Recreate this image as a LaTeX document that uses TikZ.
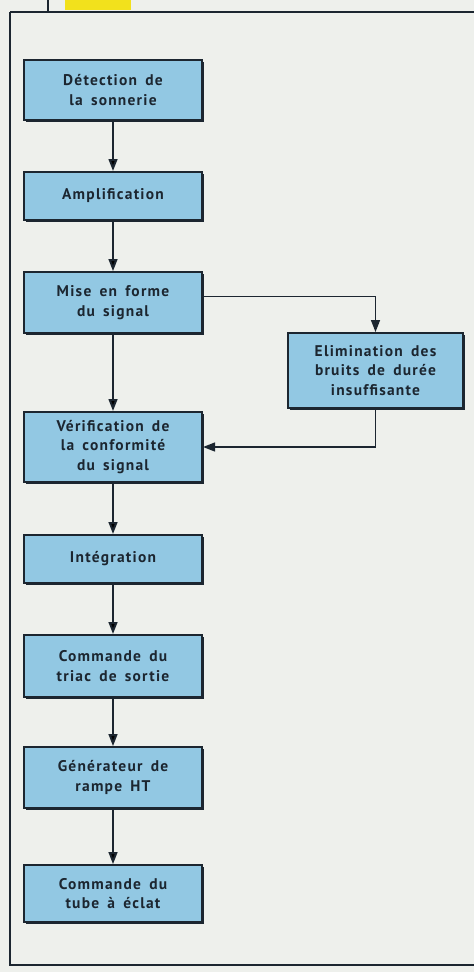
\documentclass[tikz,border=0pt]{standalone}
\usepackage{fontspec}
\setmainfont{PT Sans}[LetterSpace=8, WordSpace=1.6]
\usepackage{tikz}
\usetikzlibrary{positioning, arrows.meta, calc, shadows}
\usepackage{xcolor}
\definecolor{paper}{HTML}{EEF0EC}
\definecolor{boxblue}{HTML}{92C8E3}
\definecolor{ink}{HTML}{1C2630}
\definecolor{tab}{HTML}{F2E11C}

\begin{document}
\begin{tikzpicture}[
    x=0.025cm, y=-0.025cm,
    >={Triangle[length=3mm, width=2.2mm]},
    every node/.style={font=\bfseries\fontsize{11}{14}\selectfont, text=ink},
    block/.style={rectangle, draw=ink, line width=1.4pt, fill=boxblue,
        align=center, inner sep=0pt, minimum width=4.45cm,
        drop shadow={shadow xshift=1.3pt, shadow yshift=-1.3pt, fill=ink, opacity=1}},
    link/.style={draw=ink, line width=1.4pt}
]
    % page, frame and the tab at the top
    \fill[paper] (0,0) rectangle (474,972);
    \useasboundingbox (0,0) rectangle (474,972);
    \fill[tab] (65,0) rectangle (131,10);
    \draw[ink, line width=1pt] (48,0) -- (48,12);
    \draw[ink, line width=2pt] (10,12) -- (474,12);
    \draw[ink, line width=1.6pt] (10,12) -- (10,965) -- (474,965);

    % main chain on the left, side branch on the right
    \node[block, minimum height=1.5cm] (detect) at (113,90) {Détection de\\la sonnerie};
    \node[block, minimum height=1.2cm] (ampli) at (113,196) {Amplification};
    \node[block, minimum height=1.52cm] (shape) at (113,302.5) {Mise en forme\\du signal};
    \node[block, minimum width=4.38cm, minimum height=1.87cm] (noise) at (375.5,370.5) {Elimination des\\bruits de durée\\insuffisante};
    \node[block, minimum height=1.75cm] (check) at (113,447) {Vérification de\\la conformité\\du signal};
    \node[block, minimum height=1.2cm] (integ) at (113,559) {Intégration};
    \node[block, minimum height=1.55cm] (triac) at (113,666) {Commande du\\triac de sortie};
    \node[block, minimum height=1.52cm] (ramp) at (113,777.5) {Générateur de\\rampe HT};
    \node[block, minimum height=1.42cm] (tube) at (113,893.5) {Commande du\\tube à éclat};

    \path[->, link]
        (detect) edge (ampli)
        (ampli) edge (shape)
        (shape) edge (check)
        (check) edge (integ)
        (integ) edge (triac)
        (triac) edge (ramp)
        (ramp) edge (tube);
    \draw[->, link] ($(shape.east)+(0,-6)$) -| (noise.north);
    \draw[->, link] (noise.south) |- (check.east);
\end{tikzpicture}
\end{document}
